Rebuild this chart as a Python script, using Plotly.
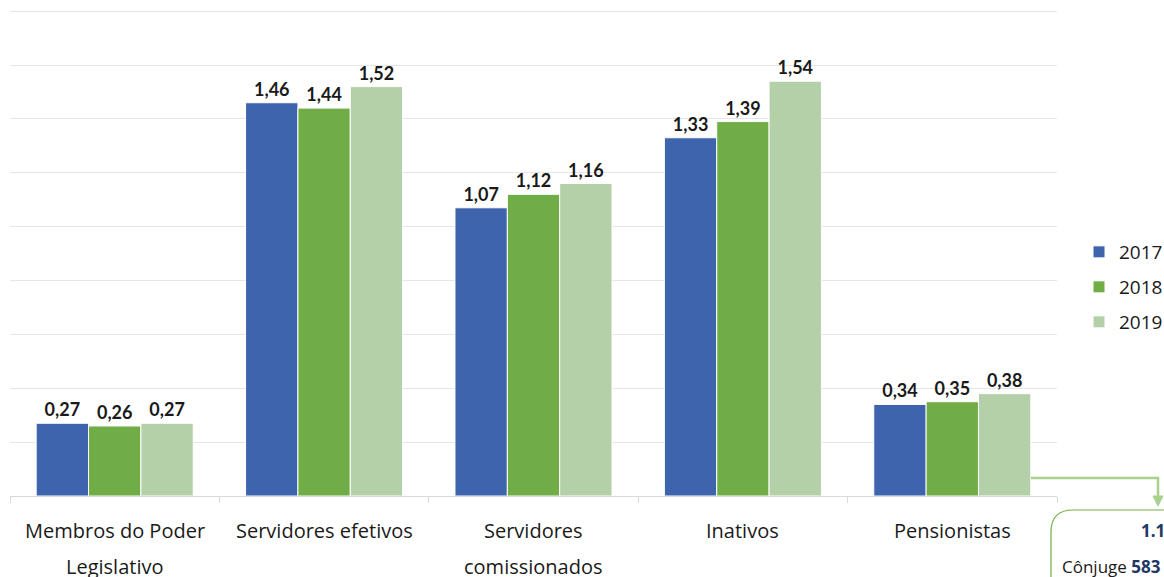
import plotly.graph_objects as go

categories = ["Membros do Poder Legislativo", "Servidores efetivos",
              "Servidores comissionados", "Inativos", "Pensionistas"]
label_lines = [["Membros do Poder", "Legislativo"], ["Servidores efetivos"],
               ["Servidores", "comissionados"], ["Inativos"], ["Pensionistas"]]
years = ["2017", "2018", "2019"]
v2017 = [0.27, 1.46, 1.07, 1.33, 0.34]
v2018 = [0.26, 1.44, 1.12, 1.39, 0.35]
v2019 = [0.27, 1.52, 1.16, 1.54, 0.38]
colors = ["#3D64AD", "#70AD47", "#B4D0A8"]

W, H = 1164, 577
ML, MR, MT, MB = 10, 107, 9, 81
PW, PH = W - ML - MR, H - MT - MB
YMAX = 1.808


def px(x):
    return (x - ML) / PW


def py(y):
    return (H - MB - y) / PH


fig = go.Figure()
legends = ["legend", "legend2", "legend3"]
for i, (yr, vals) in enumerate(zip(years, [v2017, v2018, v2019])):
    fig.add_trace(go.Bar(
        x=categories, y=vals, name=yr, marker_color=colors[i],
        marker_line=dict(color="white", width=1),
        texttemplate="%{y:.2f}", textposition="outside", cliponaxis=False,
        textfont=dict(family="Lato, Noto Sans", size=18, color="#1A1A1A", weight="bold"),
        legend=legends[i], showlegend=True,
    ))

annotations = []
for cat, lines in zip(categories, label_lines):
    for j, ln in enumerate(lines):
        annotations.append(dict(
            x=cat, xref="x", y=py(530 + 36 * j), yref="paper", text=ln,
            showarrow=False, xanchor="center", yanchor="middle",
            font=dict(family="Open Sans", size=20, color="#1A1A1A")))

annotations.append(dict(x=px(1139), xref="paper", y=py(530), yref="paper",
                        text="<b>1.1</b>", showarrow=False, xanchor="left",
                        yanchor="middle",
                        font=dict(family="Open Sans", size=17, color="#1F3864")))
annotations.append(dict(x=px(1060), xref="paper", y=py(566), yref="paper",
                        text="Cônjuge <b style='color:#1F3864'>583</b>",
                        showarrow=False, xanchor="left", yanchor="middle",
                        font=dict(family="Open Sans", size=17, color="#1A1A1A")))


def P(x, y):
    return f"{px(x):.5f},{py(y):.5f}"


shapes = [
    dict(type="path", xref="paper", yref="paper",
         path=f"M {P(1031,478)} L {P(1158,478)} L {P(1158,498)}",
         line=dict(color="#A9D18E", width=2.5)),
    dict(type="path", xref="paper", yref="paper",
         path=f"M {P(1153,496)} L {P(1163,496)} L {P(1158,506)} Z",
         line=dict(color="#A9D18E", width=1), fillcolor="#A9D18E"),
    dict(type="path", xref="paper", yref="paper",
         path=(f"M {P(1051,577)} L {P(1051,532)} Q {P(1051,510)} {P(1073,510)} "
               f"L {P(1170,510)}"),
         line=dict(color="#70AD47", width=1.2)),
]

leg_common = dict(font=dict(family="Open Sans", size=19, color="#1A1A1A"),
                  xanchor="left", yanchor="middle", bgcolor="rgba(0,0,0,0)",
                  itemwidth=30, tracegroupgap=0)
fig.update_layout(
    width=W, height=H, margin=dict(l=ML, r=MR, t=MT, b=MB, autoexpand=False),
    plot_bgcolor="white", paper_bgcolor="white",
    barmode="group", bargap=0.25, bargroupgap=0, separators=",.",
    xaxis=dict(showticklabels=False, ticks="outside", tickson="boundaries",
               ticklen=6, tickcolor="#D9D9D9", showline=True,
               linecolor="#D9D9D9", linewidth=1, showgrid=False),
    yaxis=dict(range=[0, YMAX], tick0=0, dtick=0.2, showticklabels=False,
               showgrid=True, gridcolor="#E6E6E6", gridwidth=1, zeroline=False),
    legend=dict(x=px(1079), y=py(252), **leg_common),
    legend2=dict(x=px(1079), y=py(287), **leg_common),
    legend3=dict(x=px(1079), y=py(322), **leg_common),
    annotations=annotations, shapes=shapes,
)

fig.write_html("out.html")
